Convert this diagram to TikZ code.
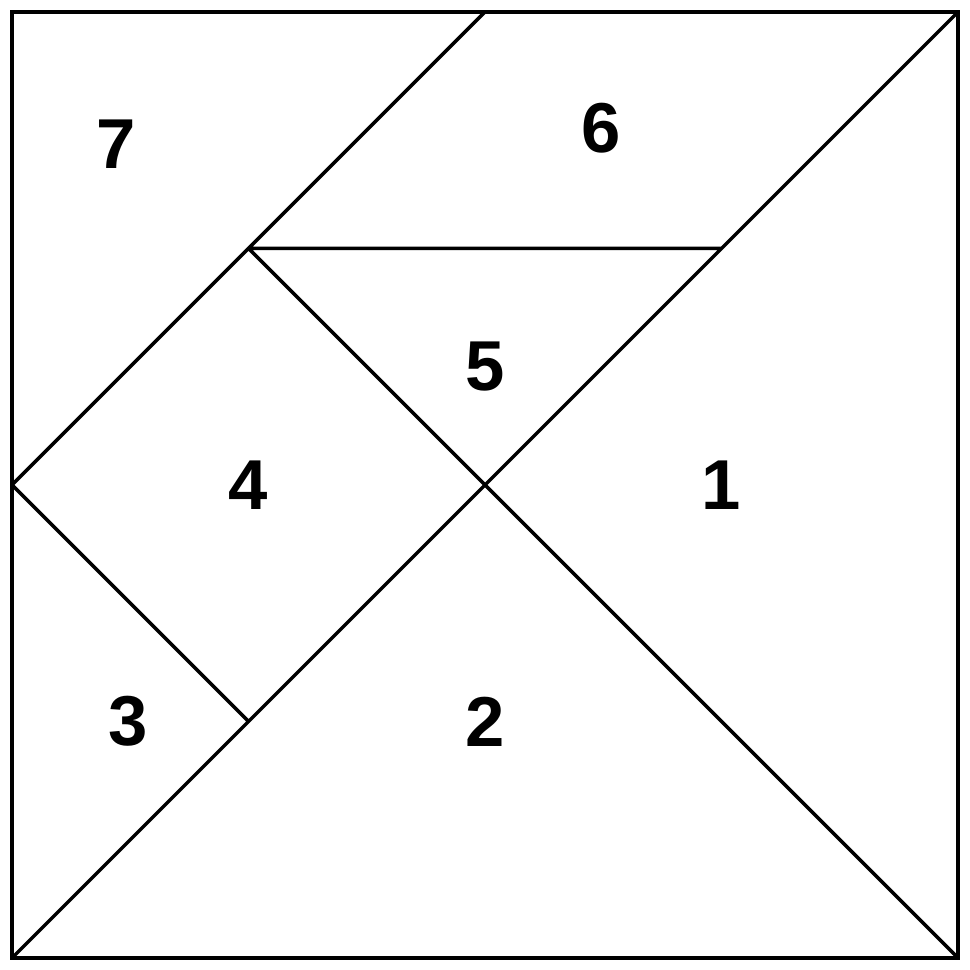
\documentclass[tikz,border=0pt]{standalone}
\usepackage{fontspec}
\setmainfont{Liberation Sans}
\usepackage{tikz}
\tikzset{piece/.style={line width=0.85pt, line join=miter},
  num/.style={font=\fontsize{17}{20}\selectfont\bfseries}}

\begin{document}
\begin{tikzpicture}[x=2cm,y=2cm]
        \useasboundingbox (-0.0507,-0.0507) rectangle (4.0507,4.0507);
        % corners and cut points
        \coordinate (sw) at (0,0);
        \coordinate (se) at (4,0);
        \coordinate (ne) at (4,4);
        \coordinate (nw) at (0,4);
        \coordinate (c) at (2,2);
        \coordinate (wm) at (0,2);
        \coordinate (nm) at (2,4);
        \coordinate (a) at (1,3);
        \coordinate (b) at (3,3);
        \coordinate (d) at (1,1);
        \draw[piece] (sw) rectangle (ne);
        \draw[piece] (sw) -- (ne)
        (wm) -- (nm)
        (a) -- (se)
        (a) -- (b)
        (wm) -- (d);
        \node[num] (p1) at (3,2) {1};
        \node[num] (p2) at (2,1) {2};
        \node[num] (p3) at (0.49,1) {3};
        \node[num] (p4) at (1,2) {4};
        \node[num] (p5) at (2,2.5) {5};
        \node[num] (p6) at (2.49,3.51) {6};
        \node[num] (p7) at (0.44,3.44) {7};
      \end{tikzpicture}
\end{document}
